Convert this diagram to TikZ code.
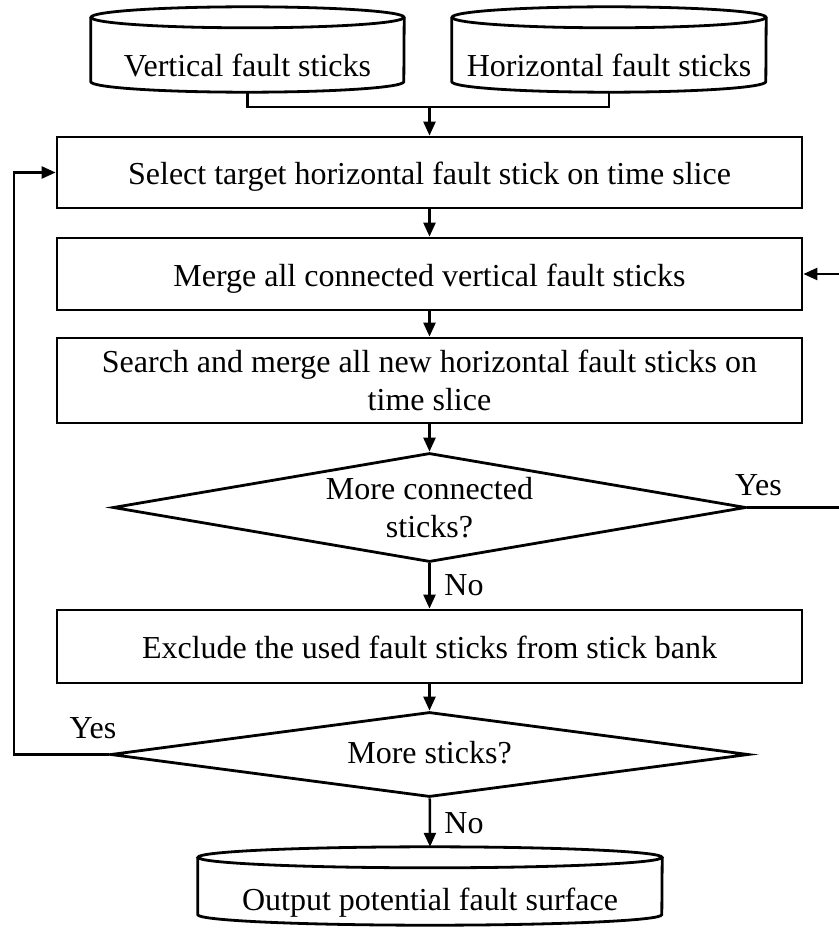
\documentclass[tikz,border=0pt]{standalone}
\usepackage{fontspec}
\setmainfont{Liberation Serif}
\usetikzlibrary{arrows.meta,shapes.geometric,calc}

\tikzset{
  outline/.style={draw=black, line width=2.8pt},
  stepbox/.style={outline, rectangle, minimum width=745pt, inner sep=0pt, align=center},
  oneline/.style={text height=24pt, text depth=0pt},
  decision/.style={outline, diamond, inner sep=0pt, align=center, aspect=6},
  store/.style={rectangle, inner sep=0pt, text depth=0pt},
  link/.style={line width=2.5pt},
  flow/.style={link, -{Triangle[length=14pt,width=12pt]}},
  tag/.style={anchor=base, inner sep=0pt},
}

% drum outline around a named node: #1 node, #2 half width, #3 end-cap half height
\newcommand\drumshape[3]{%
  \draw[outline] ($(#1.north west)+(0,-#3)$) -- ($(#1.south west)+(0,#3)$)
     arc[start angle=180, end angle=360, x radius=#2pt, y radius=#3pt]
     -- ($(#1.north east)+(0,-#3)$);
  \draw[outline] ($(#1.north)+(0,-#3)$) ellipse[x radius=#2pt, y radius=#3pt];
}

\begin{document}
\begin{tikzpicture}[x=1pt, y=1pt, font=\fontsize{32}{38}\selectfont]
\useasboundingbox (0,0) rectangle (838,-928);

% data sources
\node[store, minimum width=313pt, minimum height=85pt, text height=55pt] (vert) at (247.5,-49.5) {Vertical fault sticks};
\node[store, minimum width=314pt, minimum height=85pt, text height=55pt] (horiz) at (609,-49.5) {Horizontal fault sticks};
\drumshape{vert}{156.5}{10.5}
\drumshape{horiz}{157}{10.5}

% processing steps
\node[stepbox, oneline, minimum height=71pt] (select) at (429.5,-172.5) {Select target horizontal fault stick on time slice};
\node[stepbox, oneline, minimum height=72pt] (merge) at (429.5,-274) {Merge all connected vertical fault sticks};
\node[stepbox, minimum height=85pt] (search) at (429.5,-380.5) {Search and merge all new horizontal fault sticks on\\time slice};
\node[decision, minimum width=633pt, minimum height=109pt] (moreconn) at (429.5,-507.5) {More connected\\sticks?};
\node[stepbox, oneline, minimum height=73pt] (exclude) at (429.5,-646.5) {Exclude the used fault sticks from stick bank};
\node[decision, text height=18pt, text depth=0pt, minimum width=638pt, minimum height=85pt] (more) at (429.5,-754.5) {More sticks?};

% result
\node[store, minimum width=464pt, minimum height=78pt, text height=48pt] (output) at (430,-886) {Output potential fault surface};
\drumshape{output}{232}{10.5}

% connectors
\coordinate (join) at (429.5,-107);
\draw[link] (vert.south) |- (join) -| (horiz.south);
\draw[flow] (join) -- (select.north);
\draw[flow] (select) -- (merge);
\draw[flow] (merge) -- (search);
\draw[flow] (search) -- (moreconn);
\draw[flow] (moreconn) -- (exclude);
\draw[flow] (exclude) -- (more);
\draw[flow] (more) -- (output.north);

\coordinate (rturn) at (845,-274);
\draw[flow] (moreconn.east) -| (rturn) -- (merge.east);
\coordinate (lturn) at (14,-172.5);
\draw[flow] (more.west) -| (lturn) -- (select.west);

% branch labels
\node[tag] (yes1) at (758.5,-495) {Yes};
\node[tag] (no1) at (464,-595) {No};
\node[tag] (yes2) at (93,-738) {Yes};
\node[tag] (no2) at (464,-833) {No};
\end{tikzpicture}
\end{document}
